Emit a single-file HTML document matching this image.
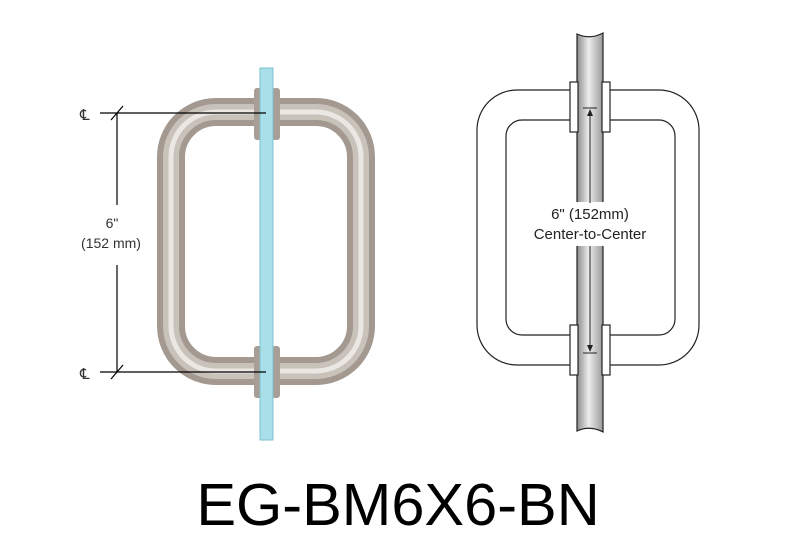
<!DOCTYPE html>
<html><head><style>body{margin:0;background:#fff}svg{display:block}</style></head><body>
<svg width="800" height="550" viewBox="0 0 800 550" xmlns="http://www.w3.org/2000/svg" font-family="Liberation Sans, sans-serif">
<defs>
<linearGradient id="glass2" x1="0" y1="0" x2="1" y2="0">
<stop offset="0" stop-color="#8c8c8c"/><stop offset="0.45" stop-color="#ececec"/><stop offset="1" stop-color="#9a9a9a"/></linearGradient>
</defs>
<!-- left handle -->
<rect x="171" y="112" width="190" height="259" rx="45" fill="none" stroke="#a39990" stroke-width="28"/>
<rect x="171" y="112" width="190" height="259" rx="45" fill="none" stroke="#c9c2bb" stroke-width="16"/>
<rect x="171" y="112" width="190" height="259" rx="45" fill="none" stroke="#ebe7e3" stroke-width="5"/>
<rect x="254" y="88" width="8" height="52" rx="3" fill="#a89e96"/>
<rect x="272" y="88" width="8" height="52" rx="3" fill="#a89e96"/>
<rect x="254" y="346" width="8" height="52" rx="3" fill="#a89e96"/>
<rect x="272" y="346" width="8" height="52" rx="3" fill="#a89e96"/>
<rect x="260" y="68" width="13" height="372" fill="#a8dfe8" stroke="#7cc3d0" stroke-width="1"/>
<g stroke="#000" stroke-width="1.2">
<line x1="100" y1="113" x2="266" y2="113"/><line x1="100" y1="372" x2="266" y2="372"/>
<line x1="117" y1="113" x2="117" y2="205"/><line x1="117" y1="265" x2="117" y2="372"/>
<line x1="111" y1="120" x2="123" y2="106"/><line x1="111" y1="379" x2="123" y2="365"/>
</g>
<text x="80" y="120" font-size="15" fill="#333">&#x2104;</text>
<text x="80" y="379" font-size="15" fill="#333">&#x2104;</text>
<text x="112" y="228" font-size="14" fill="#333" text-anchor="middle">6"</text>
<text x="111" y="248" font-size="14" fill="#333" text-anchor="middle">(152 mm)</text>
<!-- right handle -->
<g fill="none" stroke="#222" stroke-width="1.2">
<rect x="477" y="90" width="222" height="275" rx="40"/>
<rect x="506" y="120" width="169" height="215" rx="16"/>
</g>
<path d="M577 34 Q590 40 603 33 L603 432 Q590 425 577 431 Z" fill="url(#glass2)" stroke="#222" stroke-width="1.2"/>
<g fill="#fff" stroke="#222" stroke-width="1.2">
<rect x="570" y="82" width="8" height="50"/><rect x="602" y="82" width="8" height="50"/>
<rect x="570" y="325" width="8" height="50"/><rect x="602" y="325" width="8" height="50"/>
</g>
<rect x="555" y="202" width="70" height="44" fill="#fff"/>
<g stroke="#222" stroke-width="1">
<line x1="583" y1="108" x2="597" y2="108"/><line x1="583" y1="353" x2="597" y2="353"/>
<line x1="590" y1="112" x2="590" y2="203"/><line x1="590" y1="246" x2="590" y2="349"/>
</g>
<path d="M587 116 L590 109 L593 116Z M587 345 L590 352 L593 345Z" fill="#222"/>
<text x="590" y="219" font-size="15" fill="#222" text-anchor="middle">6" (152mm)</text>
<text x="590" y="239" font-size="15" fill="#222" text-anchor="middle">Center-to-Center</text>
<text x="398" y="525" font-size="59.5" fill="#000" text-anchor="middle">EG-BM6X6-BN</text>
</svg>
</body></html>
